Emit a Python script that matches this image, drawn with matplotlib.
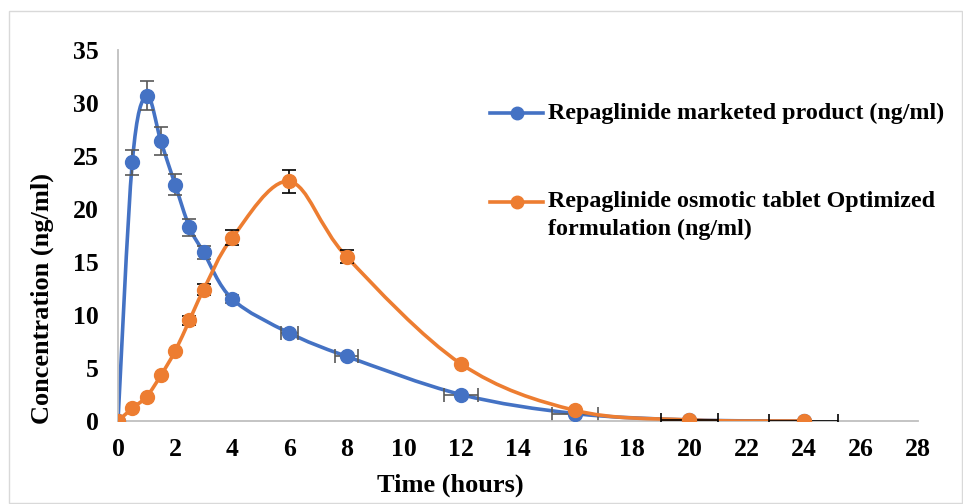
import matplotlib
matplotlib.use("Agg")
import matplotlib.pyplot as plt
import numpy as np
from matplotlib.path import Path
from matplotlib.patches import PathPatch, Rectangle
from matplotlib.lines import Line2D

plt.rcParams['font.family'] = ['Liberation Serif', 'DejaVu Serif']
plt.rcParams['font.weight'] = 'bold'

time = [0, 0.5, 1, 1.5, 2, 2.5, 3, 4, 6, 8, 12, 16, 20, 24]
marketed = [0, 24.4, 30.7, 26.4, 22.3, 18.3, 15.9, 11.5, 8.3, 6.1, 2.5, 0.7, 0.1, 0.0]
osmotic = [0, 1.2, 2.3, 4.3, 6.6, 9.5, 12.4, 17.3, 22.6, 15.5, 5.4, 1.0, 0.1, 0.0]
marketed_yerr = [0, 1.2, 1.4, 1.3, 1.0, 0.8, 0.6, 0.4, 0, 0, 0, 0, 0, 0]
marketed_xerr = [0, 0, 0, 0, 0, 0, 0, 0, 0.3, 0.4, 0.6, 0.8, 0, 0]
osmotic_yerr = [0, 0, 0, 0, 0, 0.4, 0.5, 0.7, 1.1, 0.6, 0, 0, 0, 0]
osmotic_xerr = [0, 0, 0, 0, 0, 0, 0, 0, 0, 0, 0, 0, 1.0, 1.2]
labels = ["Repaglinide marketed product (ng/ml)",
          "Repaglinide osmotic tablet Optimized\nformulation (ng/ml)"]
colors = ["#4472C4", "#ED7D31"]
xticks = list(range(0, 29, 2))
yticks = list(range(0, 36, 5))

W, H = 963, 504
fig = plt.figure(figsize=(W / 100, H / 100), dpi=100)
ax = fig.add_axes([118 / W, 1 - 421 / H, 800 / W, 371 / H])


def smooth_path(x, y):
    pts = np.column_stack([x, y]).astype(float)
    n = len(pts)
    verts = [pts[0]]
    codes = [Path.MOVETO]
    for i in range(n - 1):
        p0 = pts[i - 1] if i > 0 else pts[i]
        p1 = pts[i]
        p2 = pts[i + 1]
        p3 = pts[i + 2] if i + 2 < n else pts[i + 1]
        c1 = p1 + (p2 - p0) / 6.0
        c2 = p2 - (p3 - p1) / 6.0
        verts += [c1, c2, p2]
        codes += [Path.CURVE4] * 3
    return Path(verts, codes)


series = [(marketed, marketed_yerr, marketed_xerr, colors[0], "#595959"),
          (osmotic, osmotic_yerr, osmotic_xerr, colors[1], "black")]
for k, (vals, ye, xe, c, ec) in enumerate(series):
    ax.add_patch(PathPatch(smooth_path(time, vals), facecolor='none',
                           edgecolor=c, lw=2.6, zorder=2 + k))
    ax.errorbar(time, vals, yerr=ye, xerr=xe, fmt='none', ecolor=ec,
                elinewidth=1.2, capsize=5, capthick=1.2, zorder=2 + k)
    ax.plot(time, vals, 'o', color=c, ms=10, zorder=3 + k)

ax.set_xlim(0, 28)
ax.set_ylim(0, 35)
ax.set_xticks(xticks)
ax.set_yticks(yticks)
ax.tick_params(length=0, labelsize=18.5)
ax.tick_params(axis='y', pad=14)
ax.tick_params(axis='x', pad=12)
for lab in ax.get_xticklabels() + ax.get_yticklabels():
    lab.set_fontweight('bold')
for s in ['top', 'right']:
    ax.spines[s].set_visible(False)
for s in ['left', 'bottom']:
    ax.spines[s].set_color('#BFBFBF')
    ax.spines[s].set_linewidth(1.3)
ax.set_clip_on(False)

fig.text(450 / W, 1 - 485 / H, "Time (hours)", ha='center', va='center',
         fontsize=19, fontweight='bold')
fig.text(42 / W, 1 - 298 / H, "Concentration (ng/ml)", ha='center', va='center',
         rotation=90, fontsize=19, fontweight='bold')

# legend
leg_y = [113, 202]
for lab, c, yy in zip(labels, colors, leg_y):
    yf = 1 - yy / H
    fig.add_artist(Line2D([490 / W, 543 / W], [yf, yf], color=c, lw=2.6))
    fig.add_artist(Line2D([517 / W], [yf], marker='o', color=c, ms=9))
    lines = lab.split('\n')
    for j, ln in enumerate(lines):
        fig.text(548 / W, 1 - (yy + 27 * j) / H, ln, ha='left', va='center',
                 fontsize=17.3, fontweight='bold')

fig.add_artist(Rectangle((9 / W, 1 / H), 953 / W, 492 / H, transform=fig.transFigure,
                         fill=False, edgecolor='#D9D9D9', lw=1))

fig.savefig("out.png", dpi=100)
